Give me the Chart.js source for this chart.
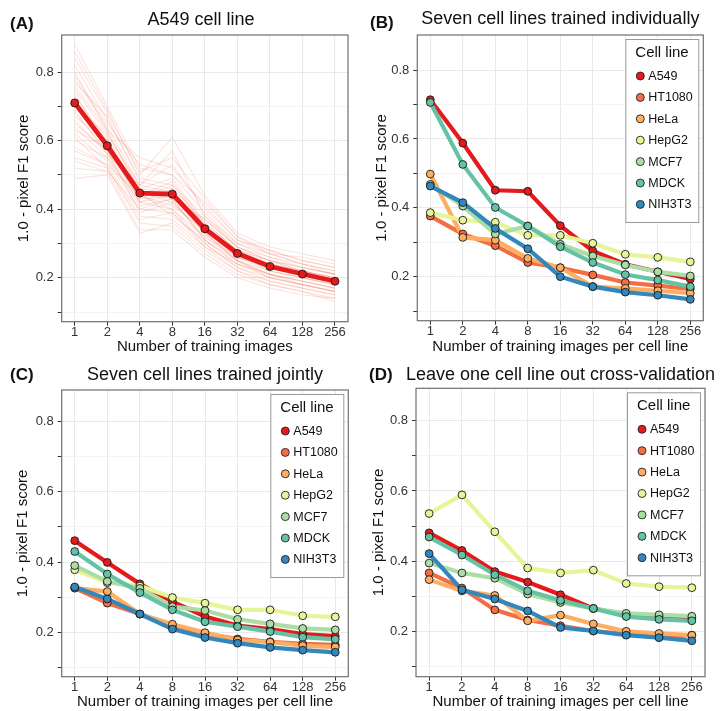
<!DOCTYPE html>
<html>
<head>
<meta charset="utf-8">
<script src="https://cdn.jsdelivr.net/npm/chart.js@4.4.1/dist/chart.umd.min.js"></script>
<style>
  html, body { margin: 0; padding: 0; background: #ffffff; }
  #wrap { position: relative; width: 720px; height: 711px; }
  canvas { position: absolute; }
</style>
</head>
<body>
<div id="wrap">
  <canvas id="panelA" width="360" height="355" style="left:0;top:0"></canvas>
  <canvas id="panelB" width="360" height="355" style="left:360px;top:0"></canvas>
  <canvas id="panelC" width="360" height="356" style="left:0;top:355px"></canvas>
  <canvas id="panelD" width="360" height="356" style="left:360px;top:355px"></canvas>
</div>
<script>
// x positions: number of training images
const trainingImages = [1, 2, 4, 8, 16, 32, 64, 128, 256];
const yTickValues = [0.1, 0.2, 0.3, 0.4, 0.5, 0.6, 0.7, 0.8];

const cellLines = ['A549', 'HT1080', 'HeLa', 'HepG2', 'MCF7', 'MDCK', 'NIH3T3'];
const cellColors = ['#e41a1c', '#f46d43', '#fdae61', '#e6f598', '#abdda4', '#66c2a5', '#3288bd'];

// (A) A549 mean curve and the individual resampled runs behind it
const a549Mean = [0.710, 0.585, 0.447, 0.444, 0.343, 0.271, 0.233, 0.211, 0.190];
const a549Runs = [
  [0.88, 0.70, 0.52, 0.50, 0.42, 0.32, 0.28, 0.25, 0.23],
  [0.82, 0.66, 0.49, 0.47, 0.38, 0.30, 0.26, 0.24, 0.22],
  [0.78, 0.64, 0.47, 0.53, 0.40, 0.31, 0.27, 0.24, 0.21],
  [0.75, 0.62, 0.46, 0.45, 0.36, 0.28, 0.25, 0.22, 0.20],
  [0.73, 0.60, 0.44, 0.48, 0.35, 0.27, 0.24, 0.22, 0.20],
  [0.70, 0.59, 0.45, 0.42, 0.33, 0.26, 0.23, 0.21, 0.19],
  [0.68, 0.57, 0.43, 0.44, 0.34, 0.27, 0.22, 0.20, 0.18],
  [0.66, 0.56, 0.42, 0.40, 0.32, 0.25, 0.21, 0.19, 0.17],
  [0.64, 0.55, 0.41, 0.43, 0.31, 0.24, 0.21, 0.19, 0.17],
  [0.62, 0.54, 0.40, 0.39, 0.30, 0.23, 0.20, 0.18, 0.16],
  [0.58, 0.53, 0.38, 0.37, 0.29, 0.22, 0.19, 0.17, 0.15],
  [0.55, 0.52, 0.36, 0.35, 0.27, 0.21, 0.18, 0.16, 0.14],
  [0.52, 0.51, 0.34, 0.34, 0.26, 0.20, 0.17, 0.15, 0.14],
  [0.49, 0.50, 0.33, 0.36, 0.28, 0.22, 0.18, 0.16, 0.13],
  [0.86, 0.69, 0.50, 0.61, 0.44, 0.33, 0.29, 0.27, 0.25],
  [0.80, 0.63, 0.55, 0.52, 0.41, 0.31, 0.28, 0.25, 0.23],
  [0.77, 0.67, 0.48, 0.46, 0.37, 0.29, 0.26, 0.23, 0.21],
  [0.74, 0.58, 0.46, 0.49, 0.36, 0.28, 0.25, 0.23, 0.21],
  [0.71, 0.61, 0.44, 0.41, 0.34, 0.26, 0.23, 0.21, 0.19],
  [0.69, 0.56, 0.47, 0.45, 0.33, 0.25, 0.22, 0.20, 0.18],
  [0.67, 0.60, 0.43, 0.47, 0.35, 0.28, 0.24, 0.22, 0.20],
  [0.65, 0.57, 0.39, 0.42, 0.32, 0.26, 0.22, 0.20, 0.18],
  [0.63, 0.58, 0.45, 0.38, 0.31, 0.24, 0.20, 0.18, 0.16],
  [0.60, 0.55, 0.42, 0.44, 0.33, 0.25, 0.21, 0.19, 0.17],
  [0.57, 0.53, 0.44, 0.40, 0.30, 0.23, 0.19, 0.17, 0.15],
  [0.84, 0.68, 0.51, 0.55, 0.43, 0.32, 0.27, 0.26, 0.24],
  [0.79, 0.65, 0.53, 0.50, 0.39, 0.30, 0.27, 0.24, 0.22],
  [0.76, 0.63, 0.45, 0.43, 0.37, 0.29, 0.25, 0.23, 0.21],
  [0.72, 0.59, 0.42, 0.46, 0.34, 0.27, 0.24, 0.22, 0.19],
  [0.61, 0.52, 0.37, 0.39, 0.29, 0.24, 0.21, 0.18, 0.16],
  [0.54, 0.51, 0.40, 0.43, 0.31, 0.25, 0.20, 0.18, 0.16],
  [0.70, 0.62, 0.47, 0.57, 0.38, 0.29, 0.25, 0.22, 0.20]
];

// (B) each cell line trained on its own (rows follow cellLines)
const individualScores = [
  [0.714, 0.588, 0.451, 0.448, 0.348, 0.275, 0.236, 0.214, 0.193],
  [0.376, 0.324, 0.290, 0.241, 0.226, 0.205, 0.183, 0.174, 0.164],
  [0.498, 0.314, 0.306, 0.253, 0.226, 0.171, 0.166, 0.159, 0.152],
  [0.386, 0.364, 0.358, 0.320, 0.320, 0.297, 0.265, 0.256, 0.243],
  [0.468, 0.405, 0.324, 0.347, 0.294, 0.260, 0.234, 0.214, 0.202],
  [0.706, 0.526, 0.401, 0.347, 0.287, 0.241, 0.206, 0.190, 0.171],
  [0.463, 0.415, 0.340, 0.281, 0.200, 0.171, 0.155, 0.146, 0.134]
];

// (C) all seven cell lines trained together
const jointScores = [
  [0.461, 0.399, 0.338, 0.287, 0.245, 0.219, 0.209, 0.195, 0.189],
  [0.326, 0.283, 0.252, 0.216, 0.196, 0.181, 0.173, 0.167, 0.164],
  [0.326, 0.316, 0.252, 0.223, 0.199, 0.178, 0.172, 0.162, 0.158],
  [0.378, 0.341, 0.332, 0.299, 0.283, 0.264, 0.264, 0.247, 0.244],
  [0.390, 0.345, 0.325, 0.273, 0.262, 0.237, 0.224, 0.211, 0.207],
  [0.430, 0.366, 0.313, 0.264, 0.230, 0.216, 0.202, 0.186, 0.180],
  [0.329, 0.295, 0.252, 0.209, 0.185, 0.169, 0.157, 0.149, 0.143]
];

// (D) leave one cell line out
const leaveOneOutScores = [
  [0.481, 0.431, 0.371, 0.341, 0.305, 0.266, 0.248, 0.243, 0.238],
  [0.367, 0.324, 0.262, 0.233, 0.217, 0.202, 0.193, 0.184, 0.190],
  [0.348, 0.316, 0.303, 0.231, 0.247, 0.222, 0.201, 0.195, 0.190],
  [0.536, 0.589, 0.484, 0.381, 0.367, 0.375, 0.337, 0.328, 0.325],
  [0.395, 0.367, 0.352, 0.307, 0.283, 0.266, 0.252, 0.248, 0.244],
  [0.469, 0.418, 0.362, 0.316, 0.289, 0.266, 0.243, 0.235, 0.231],
  [0.422, 0.319, 0.293, 0.259, 0.212, 0.202, 0.190, 0.183, 0.174]
];

const FONT = '"Liberation Sans", Arial, Helvetica, sans-serif';
const Y_TITLE = '1.0 - pixel F1 score';

const toPoints = vals => vals.map((v, i) => ({ x: trainingImages[i], y: v }));

// Titles, panel border and the in-panel legend
const panelDecor = {
  id: 'panelDecor',
  afterDraw(chart, args, o) {
    const { ctx, chartArea: a } = chart;
    const cx = (a.left + a.right) / 2;
    ctx.save();
    ctx.strokeStyle = '#6f6f6f';
    ctx.lineWidth = 1.2;
    ctx.strokeRect(a.left, a.top, a.right - a.left, a.bottom - a.top);

    ctx.fillStyle = '#111';
    ctx.textBaseline = 'middle';
    ctx.textAlign = 'left';
    ctx.font = 'bold 17px ' + FONT;
    ctx.fillText(o.tag, o.tagX, o.tagY);

    ctx.textAlign = 'center';
    ctx.font = '18px ' + FONT;
    ctx.fillText(o.title, o.titleX != null ? o.titleX : cx, o.titleY);

    ctx.font = '15px ' + FONT;
    ctx.fillText(o.xTitle, cx, o.xTitleY);

    ctx.save();
    ctx.translate(o.yTitleX, (a.top + a.bottom) / 2);
    ctx.rotate(-Math.PI / 2);
    ctx.fillText(Y_TITLE, 0, 0);
    ctx.restore();

    if (o.legend) {
      const boxL = a.right - 78, boxT = a.top + 4, boxW = 73, boxH = 183;
      ctx.fillStyle = '#ffffff';
      ctx.fillRect(boxL, boxT, boxW, boxH);
      ctx.strokeStyle = '#9a9a9a';
      ctx.lineWidth = 1;
      ctx.strokeRect(boxL + 0.5, boxT + 0.5, boxW, boxH);
      ctx.fillStyle = '#111';
      ctx.textAlign = 'left';
      ctx.font = '15px ' + FONT;
      ctx.fillText('Cell line', boxL + 10, a.top + 18);
      ctx.font = '12.5px ' + FONT;
      cellLines.forEach((name, i) => {
        const y = a.top + 41 + i * 21.4;
        ctx.beginPath();
        ctx.arc(a.right - 63, y, 4, 0, Math.PI * 2);
        ctx.fillStyle = cellColors[i];
        ctx.fill();
        ctx.strokeStyle = '#222';
        ctx.lineWidth = 0.9;
        ctx.stroke();
        ctx.fillStyle = '#111';
        ctx.fillText(name, a.right - 55, y + 0.5);
      });
    }
    ctx.restore();
  }
};

function makePanel(id, datasets, p) {
  const canvas = document.getElementById(id);
  const W = canvas.width, H = canvas.height;
  return new Chart(canvas, {
    type: 'line',
    data: { datasets },
    plugins: [panelDecor],
    options: {
      responsive: false,
      animation: false,
      events: [],
      layout: { padding: { left: 0, top: p.top, right: W - p.right, bottom: 0 } },
      plugins: {
        legend: { display: false },
        tooltip: { enabled: false },
        panelDecor: p.decor
      },
      scales: {
        x: {
          type: 'logarithmic',
          min: Math.pow(2, -0.4),
          max: Math.pow(2, 8.4),
          afterBuildTicks: s => { s.ticks = trainingImages.map(v => ({ value: v })); },
          afterFit: s => { s.height = H - p.bottom; },
          border: { display: false },
          grid: { color: '#e9e9e9', lineWidth: 1, tickLength: 4, tickColor: '#333' },
          ticks: {
            autoSkip: false, maxRotation: 0, padding: -1,
            color: '#333', font: { family: FONT, size: 13 },
            callback: v => String(v)
          }
        },
        y: {
          type: 'linear',
          min: p.yMin,
          max: p.yMax,
          afterBuildTicks: s => { s.ticks = yTickValues.map(v => ({ value: v })); },
          afterFit: s => { s.width = p.left; },
          border: { display: false },
          grid: {
            color: c => (Math.round(c.tick.value * 10) % 2 === 0 ? '#e9e9e9' : '#f4f4f4'),
            lineWidth: 1, tickLength: 4, tickColor: '#333'
          },
          ticks: {
            padding: 4, color: '#333', font: { family: FONT, size: 13 },
            callback: v => (Math.round(v * 10) % 2 === 0 ? v.toFixed(1) : '')
          }
        }
      }
    }
  });
}

// lines first (underneath), then all markers on top
function cellLineDatasets(scores) {
  const lines = scores.map((vals, i) => ({
    data: toPoints(vals),
    borderColor: cellColors[i],
    borderWidth: 4.2,
    pointRadius: 0,
    order: 100 - i
  }));
  const marks = scores.map((vals, i) => ({
    data: toPoints(vals),
    showLine: false,
    pointRadius: 3.9,
    pointBorderWidth: 0.9,
    pointBackgroundColor: cellColors[i],
    pointBorderColor: '#1a1a1a',
    order: 10 - i
  }));
  return lines.concat(marks);
}

const panelADatasets = a549Runs.map(vals => ({
  data: toPoints(vals),
  borderColor: 'rgba(238, 115, 85, 0.2)',
  borderWidth: 1.1,
  pointRadius: 0,
  order: 200
})).concat([
  { data: toPoints(a549Mean), borderColor: cellColors[0], borderWidth: 4.8, pointRadius: 0, order: 5 },
  { data: toPoints(a549Mean), showLine: false, pointRadius: 4, pointBorderWidth: 0.9,
    pointBackgroundColor: cellColors[0], pointBorderColor: '#1a1a1a', order: 1 }
]);

makePanel('panelA', panelADatasets, {
  left: 61.7, right: 348, top: 35, bottom: 321.7, yMin: 0.072, yMax: 0.908,
  decor: { tag: '(A)', tagX: 10, tagY: 24, title: 'A549 cell line', titleX: 201, titleY: 20,
           xTitle: 'Number of training images', xTitleY: 347, yTitleX: 24, legend: false }
});

makePanel('panelB', cellLineDatasets(individualScores), {
  left: 57.3, right: 343.3, top: 35, bottom: 320.7, yMin: 0.072, yMax: 0.902,
  decor: { tag: '(B)', tagX: 10, tagY: 23.5, title: 'Seven cell lines trained individually', titleY: 19.5,
           xTitle: 'Number of training images per cell line', xTitleY: 347, yTitleX: 22, legend: true }
});

makePanel('panelC', cellLineDatasets(jointScores), {
  left: 61.7, right: 348.3, top: 35, bottom: 321.7, yMin: 0.0735, yMax: 0.890,
  decor: { tag: '(C)', tagX: 10, tagY: 20.5, title: 'Seven cell lines trained jointly', titleY: 20,
           xTitle: 'Number of training images per cell line', xTitleY: 347, yTitleX: 23, legend: true }
});

makePanel('panelD', cellLineDatasets(leaveOneOutScores), {
  left: 56, right: 345, top: 33.3, bottom: 321.7, yMin: 0.072, yMax: 0.892,
  decor: { tag: '(D)', tagX: 9, tagY: 20, title: 'Leave one cell line out cross-validation', titleY: 20,
           xTitle: 'Number of training images per cell line', xTitleY: 347, yTitleX: 19, legend: true }
});
</script>
</body>
</html>
